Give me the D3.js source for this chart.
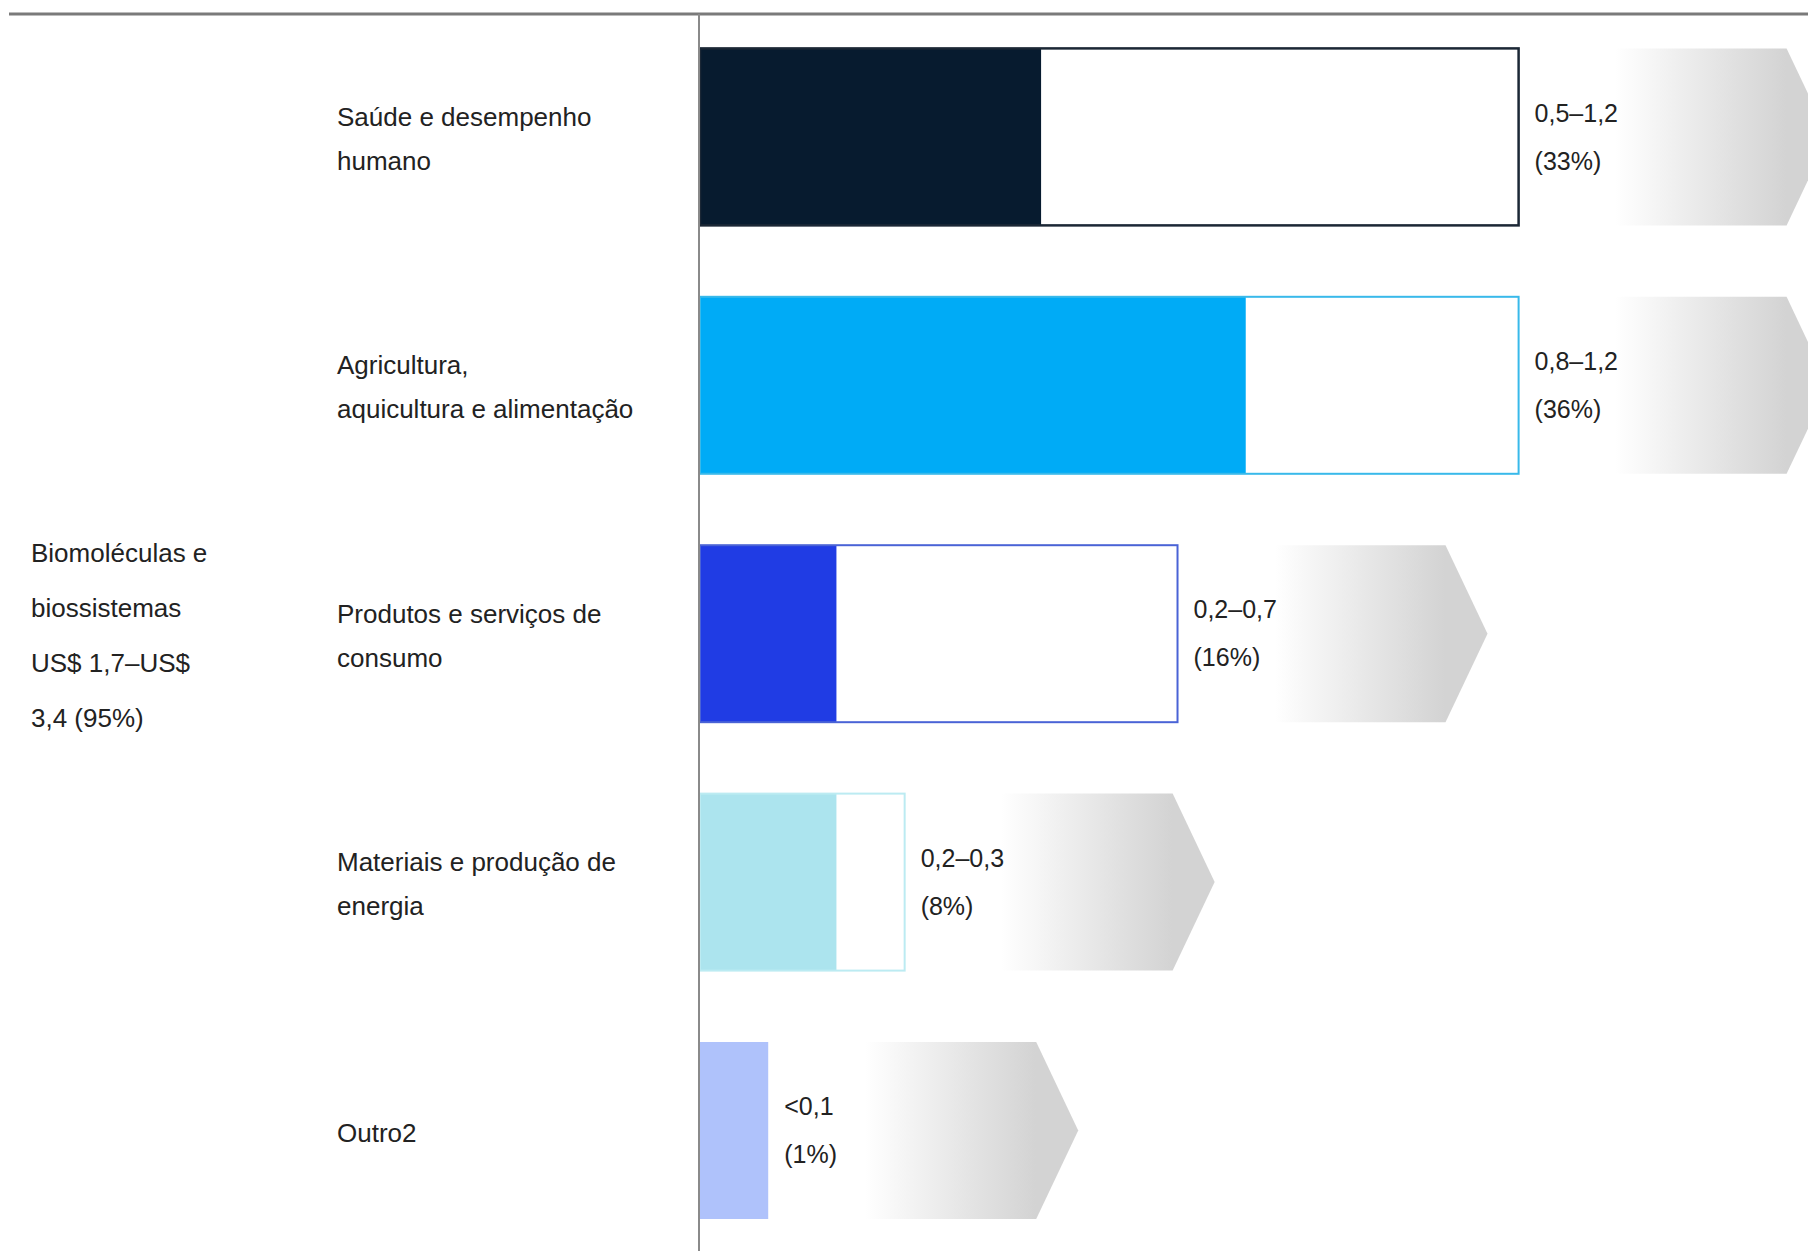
<!DOCTYPE html>
<html>
<head>
<meta charset="utf-8">
<script src="https://cdn.jsdelivr.net/npm/d3@7"></script>
<style>
  html, body { margin: 0; padding: 0; background: #fff; }
  svg { display: block; }
  text { font-family: "Liberation Sans", Arial, sans-serif; fill: #222; }
</style>
</head>
<body>
<svg id="chart"></svg>
<script>
// chart data
const categories = [
    'Saúde e desempenho humano',
    'Agricultura, aquicultura e alimentação',
    'Produtos e serviços de consumo',
    'Materiais e produção de energia',
    'Outro2'
];
const labelLines = [
    ['Saúde e desempenho', 'humano'],
    ['Agricultura,', 'aquicultura e alimentação'],
    ['Produtos e serviços de', 'consumo'],
    ['Materiais e produção de', 'energia'],
    ['Outro2']
];
const lowValues = [0.5, 0.8, 0.2, 0.2, 0.1];
const highValues = [1.2, 1.2, 0.7, 0.3, null];
const rangeLabels = ['0,5–1,2', '0,8–1,2', '0,2–0,7', '0,2–0,3', '<0,1'];
const shareLabels = ['(33%)', '(36%)', '(16%)', '(8%)', '(1%)'];
const groupLines = ['Biomoléculas e', 'biossistemas', 'US$ 1,7–US$', '3,4 (95%)'];

const fillColors = ['#071b2f', '#00abf6', '#203ce4', '#ace4ee', '#afc2fb'];
const strokeColors = ['#1b2735', '#38b9ea', '#4a63d6', '#bcebf2', null];

const width = 1808;
const height = 1251;

const svg = d3.select('#chart')
    .attr('width', width)
    .attr('height', height);

const rows = categories.map((c, i) => ({
    category: c,
    lines: labelLines[i],
    low: lowValues[i],
    high: highValues[i],
    range: rangeLabels[i],
    share: shareLabels[i],
    fill: fillColors[i],
    stroke: strokeColors[i]
}));

// scales
const xScale = d3.scaleLinear()
    .domain([0, 1.2])
    .range([700, 1518.6]);

const yScale = d3.scaleBand()
    .domain(categories)
    .range([48.4, 1219])
    .paddingInner(0.2875)
    .paddingOuter(0);

const bw = yScale.bandwidth();

// gradient for the arrows
const defs = svg.append('defs');
const grad = defs.append('linearGradient')
    .attr('id', 'arrowGrad')
    .attr('x1', 0).attr('x2', 1).attr('y1', 0).attr('y2', 0);
grad.append('stop').attr('offset', '0%').attr('stop-color', '#ffffff');
grad.append('stop').attr('offset', '80%').attr('stop-color', '#d3d3d3');
grad.append('stop').attr('offset', '100%').attr('stop-color', '#d3d3d3');

// frame lines
svg.append('line')
    .attr('x1', 9).attr('x2', width)
    .attr('y1', 14).attr('y2', 14)
    .attr('stroke', '#7a7a7a')
    .attr('stroke-width', 3);

// arrows behind everything
const endOf = d => xScale(d.high != null ? d.high : d.low);

svg.append('g').selectAll('path')
    .data(rows)
    .enter()
    .append('path')
    .attr('d', d => {
        const e = endOf(d);
        const y0 = yScale(d.category);
        const y1 = y0 + bw;
        const x0 = e + 97, xc = e + 268, xt = e + 310;
        return `M${x0},${y0}L${xc},${y0}L${xt},${y0 + bw / 2}L${xc},${y1}L${x0},${y1}Z`;
    })
    .attr('fill', 'url(#arrowGrad)');

// bars: filled low part + outlined range up to high
const bars = svg.append('g').selectAll('g')
    .data(rows)
    .enter()
    .append('g');

bars.append('rect')
    .attr('x', xScale(0))
    .attr('y', d => yScale(d.category))
    .attr('width', d => xScale(d.low) - xScale(0))
    .attr('height', bw)
    .attr('fill', d => d.fill);

bars.filter(d => d.high != null)
    .append('rect')
    .attr('x', xScale(0))
    .attr('y', d => yScale(d.category))
    .attr('width', d => xScale(d.high) - xScale(0))
    .attr('height', bw)
    .attr('fill', 'none')
    .attr('stroke', d => d.stroke)
    .attr('stroke-width', (d, i) => i === 0 ? 2.5 : 2);

// value labels
bars.append('text')
    .attr('x', d => endOf(d) + 16)
    .attr('y', d => yScale(d.category) + bw / 2 - 22)
    .attr('dominant-baseline', 'middle')
    .attr('font-size', 25)
    .text(d => d.range);

bars.append('text')
    .attr('x', d => endOf(d) + 16)
    .attr('y', d => yScale(d.category) + bw / 2 + 26)
    .attr('dominant-baseline', 'middle')
    .attr('font-size', 25)
    .text(d => d.share);

// vertical axis line
svg.append('line')
    .attr('x1', 699).attr('x2', 699)
    .attr('y1', 14).attr('y2', height)
    .attr('stroke', '#8a8a8a')
    .attr('stroke-width', 2);

// category labels
svg.append('g').selectAll('text')
    .data(rows)
    .enter()
    .append('text')
    .attr('x', 337)
    .attr('font-size', 26)
    .attr('dominant-baseline', 'middle')
    .each(function (d) {
        const mid = yScale(d.category) + bw / 2;
        const n = d.lines.length;
        const gap = 44;
        const top = mid + 4 - (n - 1) * gap / 2;
        d3.select(this).selectAll('tspan')
            .data(d.lines)
            .enter()
            .append('tspan')
            .attr('x', 337)
            .attr('y', (t, k) => top + k * gap)
            .text(t => t);
    });

// group label on the left
svg.append('g').selectAll('text')
    .data(groupLines)
    .enter()
    .append('text')
    .attr('x', 31)
    .attr('y', (t, k) => 555 + k * 55)
    .attr('font-size', 26)
    .attr('dominant-baseline', 'middle')
    .text(t => t);
</script>
</body>
</html>
